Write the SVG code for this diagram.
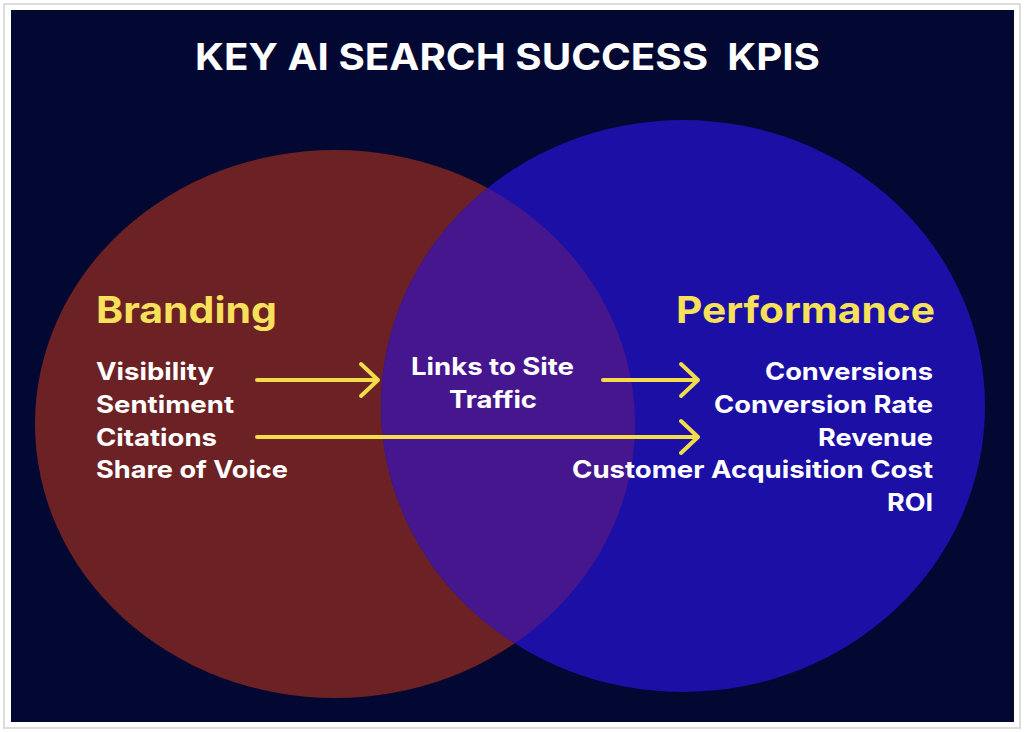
<svg xmlns="http://www.w3.org/2000/svg" width="1024" height="732" viewBox="0 0 1024 732">
<style>
text{font-family:Inter,"Liberation Sans",Arial,sans-serif;font-weight:bold}
.w{fill:#ffffff;font-size:24px}
.h{fill:#f7e15a;font-size:37px}
.a{stroke:#f2dc4a;stroke-width:4;fill:none;stroke-linecap:round;stroke-linejoin:round}
</style>
<defs><clipPath id="bc"><ellipse cx="683" cy="406" rx="302" ry="286"/></clipPath></defs>
<rect x="0" y="0" width="1024" height="732" fill="#ffffff"/>
<rect x="4" y="4" width="1016" height="724" fill="none" stroke="#dcdcdc" stroke-width="2"/>
<rect x="11" y="10" width="1003" height="712" fill="#030833"/>
<g id="branding-circle"><ellipse cx="335" cy="424" rx="300" ry="274" fill="#6c2124"/></g>
<g id="performance-circle"><ellipse cx="683" cy="406" rx="302" ry="286" fill="#1c0fa6"/></g>
<g id="overlap"><ellipse cx="335" cy="424" rx="300" ry="274" fill="#46168e" clip-path="url(#bc)"/></g>
<text x="195" y="70" fill="#ffffff" font-size="37" xml:space="preserve" textLength="625" lengthAdjust="spacingAndGlyphs">KEY AI SEARCH SUCCESS  KPIS</text>
<g id="branding">
<text class="h" x="96" y="323" textLength="181" lengthAdjust="spacingAndGlyphs">Branding</text>
<text class="w" x="96" y="380" textLength="118" lengthAdjust="spacingAndGlyphs">Visibility</text>
<text class="w" x="96" y="413" textLength="138" lengthAdjust="spacingAndGlyphs">Sentiment</text>
<text class="w" x="96" y="446" textLength="121" lengthAdjust="spacingAndGlyphs">Citations</text>
<text class="w" x="96" y="478" textLength="192" lengthAdjust="spacingAndGlyphs">Share of Voice</text>
</g>
<g id="middle">
<text class="w" x="411" y="375" textLength="163" lengthAdjust="spacingAndGlyphs">Links to Site</text>
<text class="w" x="449" y="408" textLength="88" lengthAdjust="spacingAndGlyphs">Traffic</text>
</g>
<g id="performance">
<text class="h" x="676" y="323" textLength="259" lengthAdjust="spacingAndGlyphs">Performance</text>
<text class="w" x="765" y="380" textLength="168" lengthAdjust="spacingAndGlyphs">Conversions</text>
<text class="w" x="714" y="413" textLength="219" lengthAdjust="spacingAndGlyphs">Conversion Rate</text>
<text class="w" x="818" y="446" textLength="115" lengthAdjust="spacingAndGlyphs">Revenue</text>
<text class="w" x="572" y="478" textLength="361" lengthAdjust="spacingAndGlyphs">Customer Acquisition Cost</text>
<text class="w" x="887" y="511" textLength="46" lengthAdjust="spacingAndGlyphs">ROI</text>
</g>
<g id="connectors">
<path class="a" d="M257 380 H378 M361 364 L378 380 L361 396"/>
<path class="a" d="M603 380 H698 M681 364 L698 380 L681 396"/>
<path class="a" d="M257 437 H698 M681 421 L698 437 L681 453"/>
</g>
</svg>
